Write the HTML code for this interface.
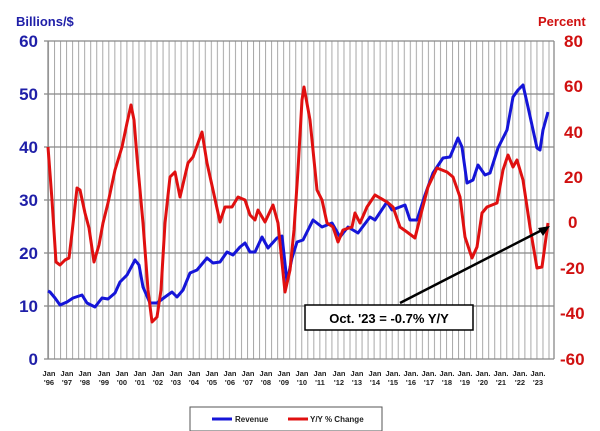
<!DOCTYPE html><html><head><style>body{margin:0;background:#fff}svg{display:block}text{font-family:"Liberation Sans",Arial,sans-serif;font-weight:bold}</style></head><body>
<svg width="600" height="431" viewBox="0 0 600 431">
<defs><pattern id="vg" x="48" y="0" width="6.03" height="431" patternUnits="userSpaceOnUse"><line x1="0.5" y1="0" x2="0.5" y2="431" stroke="#a8a8a8" stroke-width="1"/></pattern></defs>
<rect x="48" y="41" width="506" height="318" fill="url(#vg)"/>
<g stroke="#888" stroke-width="1.3">
<line x1="44" y1="41" x2="554" y2="41"/><line x1="44" y1="94" x2="554" y2="94"/><line x1="44" y1="147" x2="554" y2="147"/><line x1="44" y1="200" x2="554" y2="200"/><line x1="44" y1="253" x2="554" y2="253"/><line x1="44" y1="306" x2="554" y2="306"/><line x1="44" y1="359" x2="554" y2="359"/>
<line x1="48" y1="41" x2="48" y2="359"/><line x1="554" y1="41" x2="554" y2="359"/>
</g>
<g fill="#1f1fa8" font-size="17" text-anchor="end">
<text x="38" y="47">60</text><text x="38" y="100">50</text><text x="38" y="153">40</text><text x="38" y="206">30</text><text x="38" y="259">20</text><text x="38" y="312">10</text><text x="38" y="365">0</text></g>
<text x="16" y="26" fill="#1f1fa8" font-size="13">Billions/$</text>
<text x="538" y="26" fill="#d01010" font-size="13">Percent</text>
<g fill="#d01010" font-size="17">
<text x="564" y="47">80</text><text x="564" y="92">60</text><text x="564" y="138">40</text><text x="564" y="183">20</text><text x="568" y="228">0</text><text x="560" y="274">-20</text><text x="560" y="319">-40</text><text x="560" y="365">-60</text></g>
<g font-size="7.5" fill="#222" text-anchor="middle" font-weight="normal">
<text x="49" y="376">Jan</text><text x="49" y="385">'96</text>
<text x="67" y="376">Jan</text><text x="67" y="385">'97</text>
<text x="85" y="376">Jan</text><text x="85" y="385">'98</text>
<text x="104" y="376">Jan</text><text x="104" y="385">'99</text>
<text x="122" y="376">Jan</text><text x="122" y="385">'00</text>
<text x="140" y="376">Jan</text><text x="140" y="385">'01</text>
<text x="158" y="376">Jan</text><text x="158" y="385">'02</text>
<text x="176" y="376">Jan</text><text x="176" y="385">'03</text>
<text x="194" y="376">Jan</text><text x="194" y="385">'04</text>
<text x="212" y="376">Jan</text><text x="212" y="385">'05</text>
<text x="230" y="376">Jan</text><text x="230" y="385">'06</text>
<text x="248" y="376">Jan</text><text x="248" y="385">'07</text>
<text x="266" y="376">Jan</text><text x="266" y="385">'08</text>
<text x="284" y="376">Jan</text><text x="284" y="385">'09</text>
<text x="302" y="376">Jan</text><text x="302" y="385">'10</text>
<text x="320" y="376">Jan</text><text x="320" y="385">'11</text>
<text x="339" y="376">Jan</text><text x="339" y="385">'12</text>
<text x="357" y="376">Jan</text><text x="357" y="385">'13</text>
<text x="375" y="376">Jan</text><text x="375" y="385">'14</text>
<text x="393" y="376">Jan.</text><text x="393" y="385">'15</text>
<text x="411" y="376">Jan.</text><text x="411" y="385">'16</text>
<text x="429" y="376">Jan.</text><text x="429" y="385">'17</text>
<text x="447" y="376">Jan.</text><text x="447" y="385">'18</text>
<text x="465" y="376">Jan.</text><text x="465" y="385">'19</text>
<text x="483" y="376">Jan.</text><text x="483" y="385">'20</text>
<text x="501" y="376">Jan.</text><text x="501" y="385">'21</text>
<text x="520" y="376">Jan.</text><text x="520" y="385">'22</text>
<text x="538" y="376">Jan.</text><text x="538" y="385">'23</text>
</g>
<polyline fill="none" stroke="#1515d8" stroke-width="3" stroke-linejoin="round" points="48,291 50,292 55,298 60,305 67,302 73,298 82,295 87,303 95,307 102,298 108,299 115,293 120,282 127,275 135,260 139,265 143,287 150,303 157,303 165,297 172,292 177,297 183,290 190,273 197,270 207,258 213,263 220,262 227,252 233,255 240,247 245,243 250,252 255,252 262,237 268,248 277,238 282,236 287,282 292,258 297,242 303,240 313,220 322,227 332,223 340,237 348,227 358,233 370,217 375,220 387,202 392,210 405,205 410,220 417,220 425,195 433,173 443,158 450,157 458,138 462,147 467,183 473,180 478,165 485,175 490,173 498,148 507,130 513,97 518,90 523,85 528,107 537,148 540,150 543,130 548,112"/>
<polyline fill="none" stroke="#e01010" stroke-width="3" stroke-linejoin="round" points="48,147 52,200 56,262 60,265 65,260 69,258 72,233 77,188 80,190 85,213 89,228 94,262 99,245 103,223 108,203 115,170 122,147 127,123 131,105 134,120 137,157 143,223 148,290 152,322 157,317 161,290 165,223 170,177 175,172 180,197 188,163 193,157 202,132 207,163 213,190 220,222 225,207 232,207 238,197 245,200 250,215 255,220 258,210 265,222 273,205 278,223 285,292 290,270 294,230 298,170 302,100 304,87 310,120 317,190 322,200 327,223 333,227 338,242 343,230 352,227 355,213 360,223 367,207 375,195 387,202 393,207 400,227 407,232 415,238 422,210 428,187 437,168 447,172 453,177 460,197 465,237 472,258 477,247 482,213 487,207 497,203 503,170 508,155 513,167 517,160 523,180 530,227 537,268 542,267 548,223"/>
<line x1="400" y1="303" x2="544" y2="229" stroke="#000" stroke-width="2.5"/>
<polygon points="550,226 538,228 543,236" fill="#000"/>
<rect x="305" y="305" width="168" height="25" fill="#fff" stroke="#000" stroke-width="1.5"/>
<text x="389" y="323" font-size="13" text-anchor="middle" fill="#000">Oct. '23 = -0.7% Y/Y</text>
<rect x="190" y="407" width="192" height="24" fill="#fff" stroke="#555" stroke-width="1"/>
<line x1="212" y1="419" x2="232" y2="419" stroke="#1515d8" stroke-width="3"/>
<text x="235" y="422" font-size="8" fill="#222">Revenue</text>
<line x1="288" y1="419" x2="308" y2="419" stroke="#e01010" stroke-width="3"/>
<text x="310" y="422" font-size="8" fill="#222">Y/Y % Change</text>
</svg></body></html>
